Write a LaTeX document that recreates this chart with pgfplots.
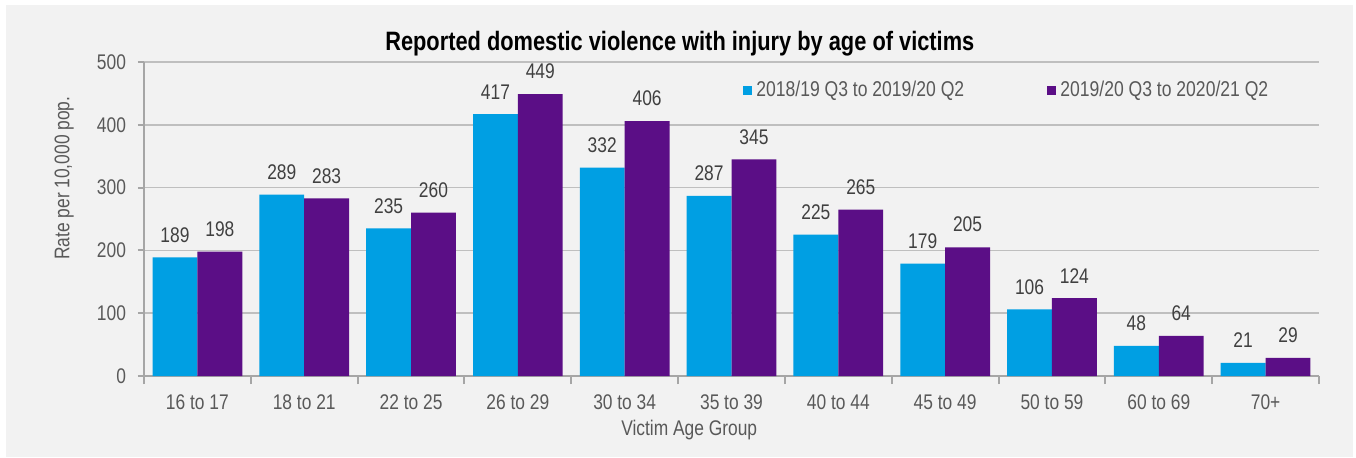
\documentclass[border=0pt]{standalone}
\usepackage{fontspec}
\setmainfont[FakeStretch=0.82]{Liberation Sans}
\usepackage{pgfplots}
\pgfplotsset{compat=1.18}
\definecolor{bggray}{HTML}{F2F2F2}
\definecolor{gridgray}{HTML}{BFBFBF}
\definecolor{axisgray}{HTML}{A6A6A6}
\definecolor{txtgray}{HTML}{595959}
\definecolor{lblgray}{HTML}{404040}
\definecolor{barblue}{RGB}{0,159,227}
\definecolor{barpurple}{RGB}{91,14,134}
\newcommand\lblfont{\fontsize{10.6}{12.5}\selectfont}

\begin{document}
\begin{tikzpicture}
  % page and grey panel
  \path[use as bounding box] (-72pt,-40.5pt) rectangle (606pt,188pt);
  \fill[bggray] (-69pt,-40.5pt) rectangle (604.5pt,185.5pt);

  \begin{axis}[
    at={(0,0)}, anchor=south west,
    scale only axis,
    width=587.5pt, height=157pt,
    xmin=-0.5, xmax=10.5,
    ymin=0, ymax=500,
    ybar, bar width=0.42,
    axis lines*=left,
    axis line style={draw=axisgray, line width=1pt},
    tick style={draw=axisgray, line width=1pt},
    tick align=outside,
    major tick length=3pt,
    minor tick length=4pt,
    xtick={0,...,10},
    xticklabels={16 to 17,18 to 21,22 to 25,26 to 29,30 to 34,35 to 39,40 to 44,45 to 49,50 to 59,60 to 69,70+},
    major x tick style={draw=none},
    minor xtick={-0.5,0.5,...,10.5},
    ytick={0,100,...,500},
    ymajorgrids,
    grid style={draw=gridgray, line width=0.75pt},
    /pgf/number format/assume math mode=true,
    ticklabel style={font=\lblfont, text=txtgray},
    xticklabel style={yshift=-3pt},
    yticklabel style={xshift=-2.5pt},
    title={Reported domestic violence with injury by age of victims},
    every axis title/.style={at={(axis description cs:0.456,1)}, anchor=base,
      yshift=6pt, font=\fontsize{13.3}{16}\selectfont\bfseries},
    xlabel={Victim Age Group},
    xlabel style={at={(axis description cs:0.464,-0.188)}, anchor=base,
      font=\lblfont, text=txtgray},
    ylabel={Rate per 10,000 pop.},
    ylabel style={at={(axis description cs:-0.068,0.63)}, anchor=center,
      font=\lblfont, text=txtgray},
    nodes near coords,
    every node near coord/.append style={font=\lblfont, text=lblgray, yshift=4pt},
    legend style={at={(0.5045,0.91)}, anchor=west, draw=none, fill=none,
      font=\fontsize{10.7}{13}\selectfont, text=txtgray, legend columns=2,
      /tikz/every even column/.append style={column sep=39.5pt}},
    legend image code/.code={\fill[#1] (0pt,-2.3pt) rectangle (4.6pt,2.3pt);},
  ]
    \addplot[fill=barblue, draw=none, bar shift=-0.21] coordinates {
      (0,189) (1,289) (2,235) (3,417) (4,332) (5,287) (6,225) (7,179) (8,106) (9,48) (10,21)};
    \addplot[fill=barpurple, draw=none, bar shift=0.21] coordinates {
      (0,198) (1,283) (2,260) (3,449) (4,406) (5,345) (6,265) (7,205) (8,124) (9,64) (10,29)};
    \legend{2018/19 Q3 to 2019/20 Q2, 2019/20 Q3 to 2020/21 Q2}
  \end{axis}
\end{tikzpicture}
\end{document}
